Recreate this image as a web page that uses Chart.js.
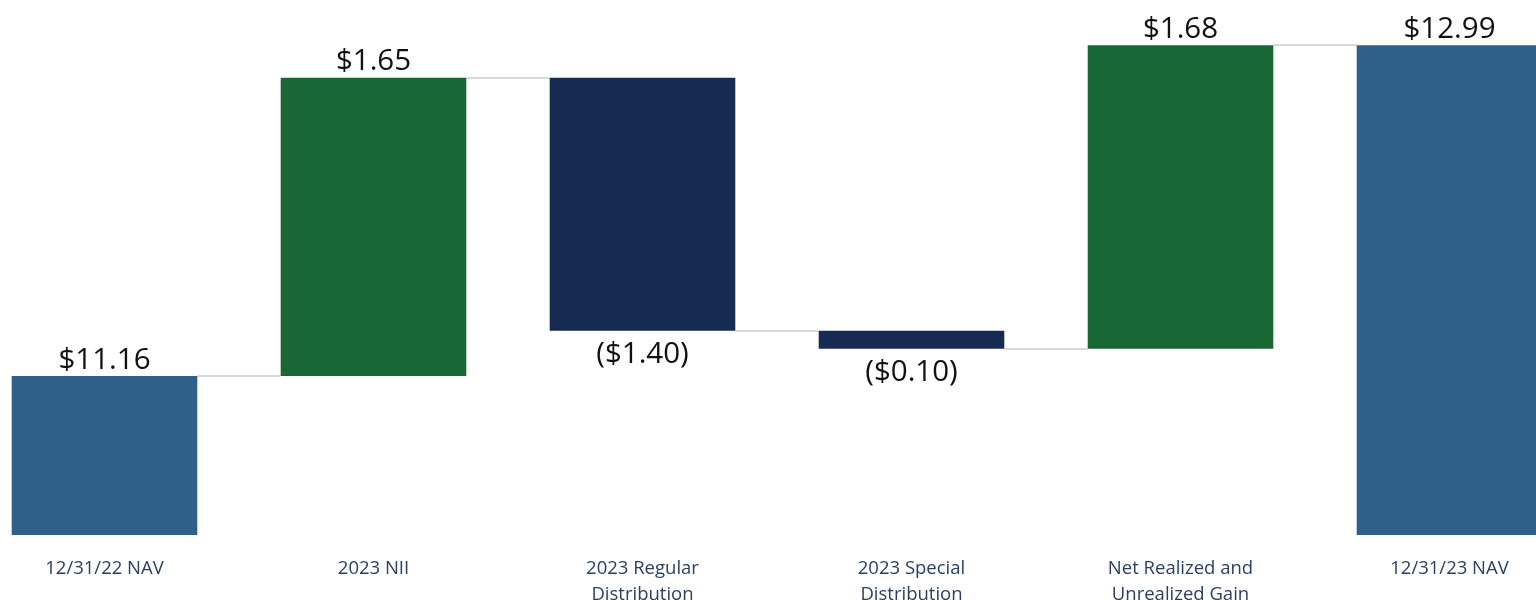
<!DOCTYPE html>
<html>
<head>
<meta charset="utf-8">
<script src="https://cdn.jsdelivr.net/npm/chart.js@4"></script>
<style>
    html, body { margin: 0; padding: 0; background: #fff; overflow: hidden; }
    #wrap { position: absolute; left: -30px; top: 0; width: 1614px; height: 601px; }
</style>
</head>
<body>
<div id="wrap"><canvas id="navBridge"></canvas></div>
<script>
// NAV bridge: starting NAV, per-share changes, ending NAV
const categories = [
    ['12/31/22 NAV'],
    ['2023 NII'],
    ['2023 Regular', 'Distribution'],
    ['2023 Special', 'Distribution'],
    ['Net Realized and', 'Unrealized Gain'],
    ['12/31/23 NAV']
];
const amounts = [11.16, 1.65, -1.40, -0.10, 1.68, 12.99];
const kinds = ['total', 'step', 'step', 'step', 'step', 'total'];
const axisMin = 10.28;
const axisMax = 13.24;

const colors = {
    total: '#2F5F8A',
    up: '#1A6736',
    down: '#172B52'
};

// Build floating [low, high] ranges from the running total
const ranges = [];
const levels = [];
let running = 0;
amounts.forEach((v, i) => {
    if (kinds[i] === 'total') {
        running = v;
        ranges.push([axisMin, v]);
    } else {
        const start = running;
        running = +(running + v).toFixed(2);
        ranges.push([Math.min(start, running), Math.max(start, running)]);
    }
    levels.push(running);
});

const barColors = amounts.map((v, i) => kinds[i] === 'total' ? colors.total : (v >= 0 ? colors.up : colors.down));

function fmt(v) {
    const s = '$' + Math.abs(v).toFixed(2);
    return v < 0 ? '(' + s + ')' : s;
}

// Thin gray connectors between neighbouring bars
const connectors = {
    id: 'connectors',
    beforeDatasetsDraw(chart) {
        const ctx = chart.ctx;
        const bars = chart.getDatasetMeta(0).data;
        const y = chart.scales.y;
        ctx.save();
        ctx.strokeStyle = '#D9D9D9';
        ctx.lineWidth = 2;
        for (let i = 0; i < bars.length - 1; i++) {
            const yy = Math.round(y.getPixelForValue(levels[i]));
            ctx.beginPath();
            ctx.moveTo(bars[i].x + bars[i].width / 2, yy);
            ctx.lineTo(bars[i + 1].x - bars[i + 1].width / 2, yy);
            ctx.stroke();
        }
        ctx.restore();
    }
};

// Value labels above rising bars, below falling ones
const valueLabels = {
    id: 'valueLabels',
    afterDatasetsDraw(chart) {
        const ctx = chart.ctx;
        const bars = chart.getDatasetMeta(0).data;
        const y = chart.scales.y;
        ctx.save();
        ctx.font = '29.5px "Open Sans"';
        ctx.fillStyle = '#111';
        ctx.textAlign = 'center';
        bars.forEach((bar, i) => {
            const v = amounts[i];
            if (v >= 0) {
                ctx.textBaseline = 'bottom';
                ctx.fillText(fmt(v), bar.x, y.getPixelForValue(ranges[i][1]) - 1);
            } else {
                ctx.textBaseline = 'top';
                ctx.fillText(fmt(v), bar.x, y.getPixelForValue(ranges[i][0]) + 9);
            }
        });
        ctx.restore();
    }
};

const ctx = document.getElementById('navBridge').getContext('2d');
new Chart(ctx, {
    type: 'bar',
    data: {
        labels: categories,
        datasets: [{
            data: ranges,
            backgroundColor: barColors,
            borderWidth: 0,
            categoryPercentage: 1,
            barPercentage: 0.69
        }]
    },
    options: {
        responsive: true,
        maintainAspectRatio: false,
        animation: false,
        layout: { padding: 0 },
        plugins: {
            legend: { display: false },
            tooltip: { enabled: false }
        },
        scales: {
            x: {
                grid: { display: false },
                border: { display: false },
                ticks: {
                    color: '#2B3E63',
                    font: { family: 'Open Sans', size: 18.5, lineHeight: 1.4 },
                    padding: 13,
                    maxRotation: 0
                },
                afterFit(scale) { scale.height = 66; }
            },
            y: {
                display: false,
                min: axisMin,
                max: axisMax
            }
        }
    },
    plugins: [connectors, valueLabels]
});
</script>
</body>
</html>
